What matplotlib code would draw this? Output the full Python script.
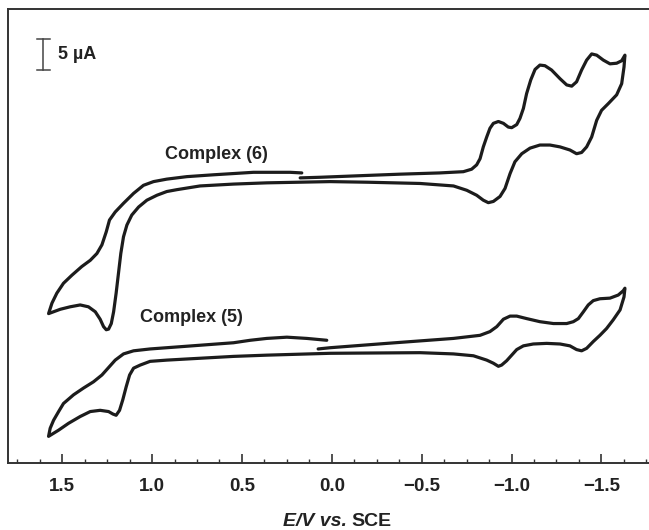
import matplotlib
matplotlib.use("Agg")
import matplotlib.pyplot as plt
import numpy as np

plt.rcParams['font.family'] = ['Liberation Sans', 'DejaVu Sans']

# Complex (6): potential (V vs SCE) and current (uA, offset) in scan order
c6_E = [0.176, 0.065, -0.200, -0.380, -0.600, -0.732, -0.778, -0.806, -0.825, -0.843,
        -0.862, -0.880, -0.899, -0.927, -0.955, -0.982, -1.001, -1.029, -1.047, -1.066,
        -1.084, -1.107, -1.131, -1.158, -1.186, -1.223, -1.270, -1.307, -1.335, -1.362,
        -1.390, -1.418, -1.446, -1.474, -1.511, -1.548, -1.585, -1.613, -1.631,
        -1.626, -1.613, -1.585, -1.539, -1.501, -1.474, -1.446, -1.418, -1.390, -1.362,
        -1.325, -1.270, -1.214, -1.158, -1.103, -1.057, -1.019, -0.992, -0.964, -0.936,
        -0.899, -0.871, -0.843, -0.806, -0.751, -0.677, -0.491, -0.200, 0.009, 0.362,
        0.547, 0.733, 0.862, 0.918, 0.973, 1.029, 1.075, 1.113, 1.140, 1.159,
        1.174, 1.187, 1.200, 1.214, 1.227, 1.242, 1.255, 1.270, 1.289, 1.316,
        1.354, 1.400, 1.456, 1.511, 1.576,
        1.557, 1.530, 1.493, 1.446, 1.391, 1.344, 1.307, 1.279, 1.255, 1.237,
        1.205, 1.159, 1.103, 1.048, 0.992, 0.918, 0.807, 0.658, 0.547, 0.436,
        0.325, 0.232, 0.167]
c6_I = [46.0, 46.1, 46.4, 46.6, 46.8, 47.0, 47.4, 48.1, 49.1, 51.0,
        52.6, 54.0, 54.8, 55.1, 54.8, 54.2, 54.1, 54.6, 55.6, 57.2,
        59.6, 61.8, 63.5, 64.2, 64.1, 63.4, 62.0, 61.0, 60.8, 61.5,
        63.4, 65.0, 66.0, 65.8, 65.0, 64.4, 64.5, 64.9, 65.8,
        63.9, 61.2, 59.4, 58.0, 56.9, 55.3, 52.6, 51.0, 50.1, 49.9,
        50.5, 51.0, 51.3, 51.3, 50.8, 49.9, 48.6, 46.7, 44.3, 43.0,
        42.2, 42.0, 42.4, 43.2, 44.0, 44.7, 45.1, 45.3, 45.4, 45.2,
        45.0, 44.7, 44.1, 43.8, 43.2, 42.4, 41.3, 40.0, 38.4, 36.5,
        33.8, 30.6, 27.4, 24.4, 22.5, 21.6, 21.5, 22.0, 23.2, 24.4,
        25.2, 25.5, 25.2, 24.8, 24.1,
        25.8, 27.4, 29.0, 30.3, 31.7, 32.7, 33.8, 35.2, 37.3, 39.2,
        40.5, 41.9, 43.5, 44.8, 45.4, 45.8, 46.2, 46.5, 46.7, 46.9,
        46.9, 46.9, 46.8]

# Complex (5)
c5_E = [0.076, 0.009, -0.306, -0.677, -0.825, -0.880, -0.918, -0.955, -0.992, -1.029,
        -1.084, -1.158, -1.233, -1.307, -1.344, -1.372, -1.400, -1.427, -1.455, -1.492,
        -1.548, -1.594, -1.622, -1.631,
        -1.626, -1.604, -1.566, -1.529, -1.492, -1.455, -1.418, -1.390, -1.362, -1.325,
        -1.270, -1.196, -1.121, -1.066, -1.029, -1.001, -0.973, -0.945, -0.927, -0.899,
        -0.862, -0.788, -0.677, -0.491, 0.009, 0.362, 0.547, 0.733, 0.918, 1.011,
        1.066, 1.103, 1.125, 1.144, 1.163, 1.181, 1.200, 1.218, 1.242, 1.289,
        1.344, 1.400, 1.465, 1.520, 1.576,
        1.567, 1.548, 1.520, 1.493, 1.437, 1.381, 1.326, 1.279, 1.242, 1.205,
        1.159, 1.103, 1.011, 0.825, 0.640, 0.547, 0.454, 0.362, 0.250, 0.139,
        0.028]
c5_I = [18.4, 18.6, 19.3, 20.1, 20.6, 21.2, 22.0, 23.2, 23.7, 23.7,
        23.3, 22.8, 22.5, 22.5, 22.8, 23.3, 24.4, 25.5, 26.2, 26.5,
        26.6, 27.1, 27.8, 28.2,
        26.8, 24.7, 23.1, 21.7, 20.6, 19.6, 18.5, 18.1, 18.3, 18.9,
        19.2, 19.3, 19.2, 18.9, 18.3, 17.4, 16.5, 15.8, 15.6, 16.1,
        16.6, 17.3, 17.6, 17.8, 17.7, 17.4, 17.2, 16.9, 16.6, 16.4,
        15.8, 15.3, 14.2, 12.3, 10.2, 8.5, 7.7, 7.9, 8.3, 8.5,
        8.3, 7.5, 6.4, 5.3, 4.3,
        5.6, 6.9, 8.3, 9.6, 11.0, 12.1, 13.1, 14.2, 15.4, 16.6,
        17.6, 18.1, 18.4, 18.8, 19.2, 19.4, 19.8, 20.1, 20.3, 20.1,
        19.8]

labels = ["Complex (6)", "Complex (5)"]
label_E = [0.643, 0.783]
label_I = [49.7, 23.4]

xticks = [1.5, 1.0, 0.5, 0.0, -0.5, -1.0, -1.5]
xticklabels = ["1.5", "1.0", "0.5", "0.0", "\u22120.5", "\u22121.0", "\u22121.5"]

scalebar_E = 1.606
scalebar_I = [63.4, 68.4]  # 5 uA

W, H = 649, 530
fig = plt.figure(figsize=(W / 100, H / 100), dpi=100)
ax = fig.add_axes([8.3 / W, (H - 463) / H, 1 - 8.3 / W, (463 - 9.3) / H])

col = '#1c1c1c'
for E, I in [(c6_E, c6_I), (c5_E, c5_I)]:
    ax.plot(E, I, color=col, lw=2.3, solid_joinstyle='round', solid_capstyle='round')

for t, e, i in zip(labels, label_E, label_I):
    ax.text(e, i, t, ha='center', va='center', fontsize=13, fontweight='bold', color='#222222')

# scale bar
ax.plot([scalebar_E, scalebar_E], scalebar_I, color='#444444', lw=1.1)
for yy in scalebar_I:
    ax.plot([scalebar_E + 0.036, scalebar_E - 0.036], [yy, yy], color='#444444', lw=1.1)
ax.text(scalebar_E - 0.08, np.mean(scalebar_I), "5 \u00b5A", ha='left', va='center',
        fontsize=13, fontweight='bold', color='#222222')

ax.set_xlim(1.80, -1.765)
ax.set_ylim(0, 73.2)
ax.set_yticks([])
ax.set_xticks(xticks)
ax.set_xticklabels(xticklabels, fontsize=13.5, fontweight='bold', color='#222222')
ax.xaxis.set_minor_locator(matplotlib.ticker.MultipleLocator(0.125))
ax.tick_params(axis='x', which='major', direction='in', length=6.5, width=1.2, pad=11, colors='#333333')
ax.tick_params(axis='x', which='minor', direction='in', length=3.2, width=1.0, colors='#333333')
for lab in ax.get_xticklabels():
    lab.set_color('#222222')
ax.spines['right'].set_visible(False)
for s in ['left', 'top', 'bottom']:
    ax.spines[s].set_linewidth(1.4)
    ax.spines[s].set_color('#333333')

fig.text(347 / W, 4 / H, "E/V vs.", ha='right', va='baseline', fontsize=14,
         fontweight='bold', fontstyle='italic', color='#222222')
fig.text(351 / W, 4 / H, "SCE", ha='left', va='baseline', fontsize=14,
         fontweight='bold', color='#222222')

fig.savefig("out.png", dpi=100)
